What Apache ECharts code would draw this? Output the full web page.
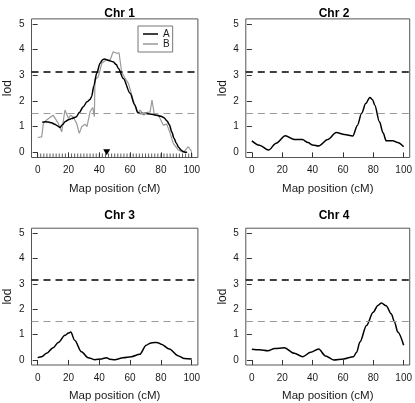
<!DOCTYPE html>
<html>
<head>
<meta charset="utf-8">
<script src="https://cdn.jsdelivr.net/npm/echarts@6/dist/echarts.min.js"></script>
<style>
html,body{margin:0;padding:0;background:#fff;}
#main{width:415px;height:403px;}
</style>
</head>
<body>
<div id="main"></div>
<script>
// ---------- data ----------
const panelTitles = ['Chr 1', 'Chr 2', 'Chr 3', 'Chr 4'];
const xTicks = [0, 20, 40, 60, 80, 100];
const yTicks = [0, 1, 2, 3, 4, 5];
const threshHigh = 3.15;
const threshLow = 1.52;
const seriesNames = ['A', 'B'];

// Chr 1, method A (black)
const chr1PosA = [3, 5, 7, 9, 11, 13, 14.5, 16, 18, 20, 22, 25, 27, 29.6, 32, 34, 35, 36.5, 38.3, 40.5, 42, 43.3, 46, 49, 51, 52.4, 55.6, 60, 63, 65, 67, 70, 73, 77, 80, 82, 84, 85.5, 87, 88.5, 90, 91.5, 93, 94.5, 96, 97];
const chr1LodA = [1.17, 1.19, 1.18, 1.15, 1.1, 1.03, 0.97, 1.08, 1.2, 1.27, 1.32, 1.38, 1.55, 1.78, 1.97, 2.06, 2.17, 2.6, 3.08, 3.47, 3.6, 3.64, 3.58, 3.53, 3.42, 3.27, 2.88, 2.3, 1.85, 1.55, 1.51, 1.52, 1.49, 1.45, 1.41, 1.35, 1.22, 1.08, 0.8, 0.55, 0.36, 0.2, 0.09, 0.03, 0.0, 0.0];

// Chr 1, method B (grey)
const chr1PosB = [0, 2.6, 3.7, 5.8, 8, 10, 11, 13.4, 15.6, 17.7, 20, 21.4, 23, 25.3, 27, 28.6, 30.7, 32, 34, 35.7, 36.8, 37.2, 39.4, 41.6, 44.4, 47, 49, 50.2, 51.3, 52.8, 54.5, 56.7, 58.9, 62, 65, 66.5, 69, 70.8, 73, 74.2, 75.8, 78.4, 81.6, 83.8, 86, 88, 91.3, 94.6, 97.8, 100];
const chr1LodB = [0.58, 0.6, 1.13, 1.26, 1.36, 1.45, 1.42, 1.13, 0.8, 1.65, 1.32, 1.45, 1.39, 1.13, 0.74, 1.0, 1.1, 1.0, 1.58, 1.75, 1.39, 2.82, 2.95, 3.47, 3.6, 3.6, 3.92, 3.99, 3.86, 3.88, 3.14, 2.88, 2.69, 2.04, 1.52, 1.65, 1.45, 1.55, 1.58, 2.04, 1.45, 1.45, 1.06, 1.1, 0.74, 0.35, 0.09, 0.0, 0.22, 0.03];

// Chr 1 marker positions (rug) and peak marker
const chr1Markers = [0, 2, 4, 6, 8, 10, 12, 14, 16, 18, 20, 22, 24, 26, 28, 30, 32, 34, 36, 38, 40, 42, 44, 46, 48, 50, 52, 54, 56, 58, 60, 62, 64, 66, 68, 70, 72, 74, 76, 78, 80, 82, 84, 86, 88, 90, 92, 94, 96, 98, 100];
const chr1Peak = 44.8;

// Chr 2
const chr2Pos = [0, 5, 11, 16, 22, 28, 33.3, 37, 40, 44, 50, 55.6, 61, 66.5, 69.5, 72.3, 75, 77.7, 79.5, 81, 84, 86.5, 88.5, 92.9, 96, 100];
const chr2Lod = [0.45, 0.28, 0.09, 0.36, 0.65, 0.5, 0.5, 0.38, 0.29, 0.25, 0.5, 0.77, 0.7, 0.64, 1.05, 1.52, 1.9, 2.14, 2.05, 1.84, 1.2, 0.75, 0.45, 0.45, 0.38, 0.22];

// Chr 3
const chr3Pos = [0, 2.6, 5.8, 10, 13.4, 17.7, 20, 21.5, 24, 28.4, 32.8, 37, 41.4, 44.6, 46.8, 50, 55.4, 60.8, 66.2, 70.5, 73, 75.9, 78, 80.2, 85.5, 91, 95.3, 100];
const chr3Lod = [0.09, 0.13, 0.26, 0.48, 0.69, 0.97, 1.06, 1.1, 0.78, 0.32, 0.09, 0.01, 0.04, 0.09, 0.03, 0.01, 0.09, 0.13, 0.22, 0.58, 0.66, 0.69, 0.68, 0.62, 0.43, 0.17, 0.06, 0.04];

// Chr 4
const chr4Pos = [0, 5, 10.6, 15, 21.4, 28, 33.5, 38.7, 44, 48.5, 53.9, 60.4, 66.9, 69, 71.2, 75.5, 79.9, 83, 85.3, 88.5, 91.8, 94, 96.1, 100];
const chr4Lod = [0.42, 0.4, 0.36, 0.45, 0.48, 0.26, 0.13, 0.3, 0.43, 0.16, 0.0, 0.04, 0.13, 0.3, 0.71, 1.36, 1.88, 2.15, 2.25, 2.14, 1.82, 1.5, 1.1, 0.58];

// ---------- chart ----------
const FONT = 'Liberation Sans, Arial, Helvetica, sans-serif';
const NARROW = 'Liberation Sans Narrow, Liberation Sans, Arial, sans-serif';
const TXT = '#1a1a1a';
const pair = (xs, ys) => xs.map((x, i) => [x, ys[i]]);

const grids = [
  {left: 31.5, top: 18.9, width: 166.4, height: 138.6},
  {left: 245.8, top: 18.9, width: 166.4, height: 138.6},
  {left: 31.5, top: 228.2, width: 166.4, height: 138.7},
  {left: 245.8, top: 228.2, width: 166.4, height: 138.7}
].map(g => Object.assign({show: true, borderColor: '#555', borderWidth: 1, backgroundColor: 'transparent'}, g));

const xAxes = grids.map((g, i) => ({
  type: 'value', gridIndex: i, min: -4, max: 104,
  name: 'Map position (cM)', nameLocation: 'middle', nameGap: 25,
  nameTextStyle: {fontFamily: NARROW, fontSize: 11.5, color: TXT},
  axisLine: {show: false},
  axisTick: {show: true, customValues: xTicks, length: 5, lineStyle: {color: '#333'}},
  axisLabel: {customValues: xTicks, fontFamily: FONT, fontSize: 10, color: TXT, margin: 8},
  splitLine: {show: false}
}));

const yAxes = grids.map((g, i) => ({
  type: 'value', gridIndex: i, min: -0.2, max: 5.2,
  name: 'lod', nameLocation: 'middle', nameGap: 17.5,
  nameTextStyle: {fontFamily: NARROW, fontSize: 12, color: TXT},
  axisLine: {show: false},
  axisTick: {show: true, customValues: yTicks, length: 5, lineStyle: {color: '#333'}},
  axisLabel: {customValues: yTicks, fontFamily: FONT, fontSize: 10, color: TXT, margin: 7},
  splitLine: {show: false}
}));

const titleCenters = [[114.7, 2.5], [329, 2.5], [114.7, 205], [329, 205]];
const titles = panelTitles.map((t, i) => ({
  text: t, left: titleCenters[i][0], top: titleCenters[i][1], textAlign: 'center',
  textStyle: {fontFamily: FONT, fontSize: 12, fontWeight: 'bold', color: '#000'}
}));

const thresholdMark = {
  silent: true, symbol: 'none', label: {show: false},
  data: [
    {yAxis: threshHigh, lineStyle: {color: '#000', width: 1.6, type: [7, 5]}},
    {yAxis: threshLow, lineStyle: {color: '#999', width: 1, type: [7, 5]}}
  ]
};

function curve(name, idx, data, color, width, smooth, mark) {
  const s = {
    name: name, type: 'line', xAxisIndex: idx, yAxisIndex: idx,
    data: data, symbol: 'none', smooth: smooth, smoothMonotone: smooth ? 'x' : undefined,
    lineStyle: {color: color, width: width}, itemStyle: {color: color},
    animation: false, z: name === 'A' ? 4 : 3
  };
  if (mark) s.markLine = thresholdMark;
  return s;
}

const series = [
  curve(seriesNames[1], 0, pair(chr1PosB, chr1LodB), '#9a9a9a', 1.2, false, false),
  curve(seriesNames[0], 0, pair(chr1PosA, chr1LodA), '#000', 1.5, 0.3, true),
  curve('chr2', 1, pair(chr2Pos, chr2Lod), '#000', 1.5, 0.3, true),
  curve('chr3', 2, pair(chr3Pos, chr3Lod), '#000', 1.5, 0.3, true),
  curve('chr4', 3, pair(chr4Pos, chr4Lod), '#000', 1.5, 0.3, true),
  {
    type: 'scatter', xAxisIndex: 0, yAxisIndex: 0, silent: true, animation: false,
    data: chr1Markers.map(m => [m, -0.2]),
    symbol: 'rect', symbolSize: [1, 4], symbolOffset: [0, -2],
    itemStyle: {color: '#333'}
  },
  {
    type: 'scatter', xAxisIndex: 0, yAxisIndex: 0, silent: true, animation: false,
    data: [[chr1Peak, 0]],
    symbol: 'triangle', symbolRotate: 180, symbolSize: [7, 6],
    itemStyle: {color: '#000', opacity: 1}
  }
];

const chart = echarts.init(document.getElementById('main'), null, {renderer: 'canvas'});
chart.setOption({
  backgroundColor: '#fff',
  animation: false,
  title: titles,
  grid: grids,
  xAxis: xAxes,
  yAxis: yAxes,
  legend: {
    data: seriesNames, orient: 'vertical', left: 138, top: 26,
    padding: [3, 3, 3, 5], itemGap: 0, itemWidth: 15, itemHeight: 1.5,
    icon: 'rect',
    borderColor: '#777', borderWidth: 1, borderRadius: 0,
    textStyle: {fontFamily: FONT, fontSize: 10, lineHeight: 10, color: TXT},
    selectedMode: false
  },
  series: series
});
</script>
</body>
</html>
